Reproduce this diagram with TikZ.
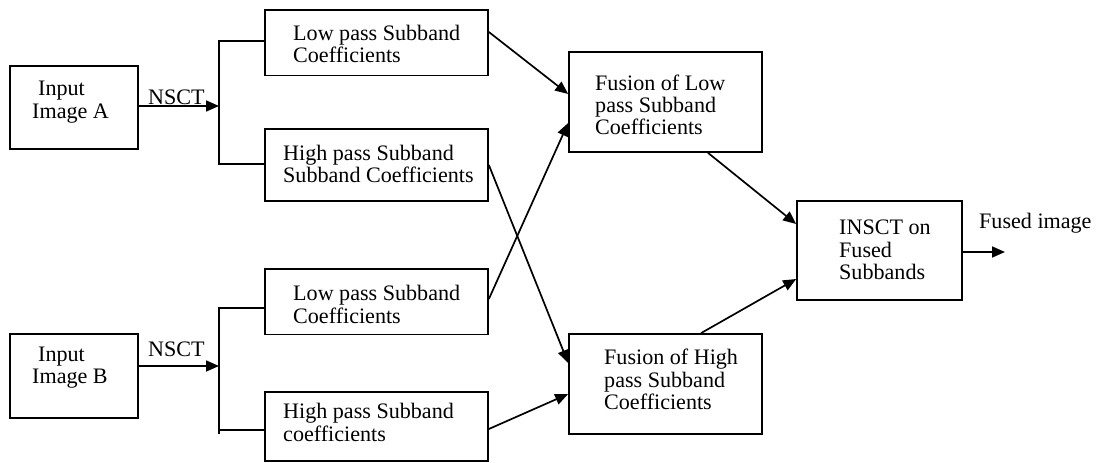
\documentclass[tikz,border=0pt]{standalone}
\usepackage{fontspec}
\setmainfont{Liberation Serif}
\usetikzlibrary{arrows.meta}
\tikzset{
  box/.style={draw, line width=1.7pt, rectangle, inner sep=0pt},
  txt/.style={anchor=west, inner sep=0pt, align=left, font=\fontsize{22.1}{22.3}\selectfont},
  conn/.style={line width=1.7pt},
  arr/.style={line width=1.7pt, -{Triangle[length=13pt,width=11pt]}}
}
\begin{document}
\begin{tikzpicture}[x=1pt,y=-1pt]
\useasboundingbox (0,0) rectangle (1098,463);
% boxes
\node[box, minimum width=128pt, minimum height=83pt] (inA) at (74,107.5) {};
\node[box, minimum width=128pt, minimum height=84pt] (inB) at (74,376) {};
\node[box, minimum width=223pt, minimum height=65.5pt] (lowA) at (376.5,42.75) {};
\node[box, minimum width=223pt, minimum height=72pt] (highA) at (376.5,165) {};
\node[box, minimum width=223pt, minimum height=65.5pt] (lowB) at (376.5,301.75) {};
\node[box, minimum width=223pt, minimum height=69pt] (highB) at (376.5,426.5) {};
\node[box, minimum width=193pt, minimum height=100pt] (fusL) at (665.5,102) {};
\node[box, minimum width=193pt, minimum height=100pt] (fusH) at (665.5,384) {};
\node[box, minimum width=165pt, minimum height=99pt] (insct) at (879.5,250.5) {};
% texts
\node[txt] (inAt) at (32,102) {\hspace{6pt}Input\\Image A};
\node[txt] (inBt) at (32,367.5) {\hspace{6pt}Input\\Image B};
\node[txt] (lowAt) at (293,44) {Low pass Subband\\Coefficients};
\node[txt] (highAt) at (283,164) {High pass Subband\\Subband Coefficients};
\node[txt] (lowBt) at (293,304.5) {Low pass Subband\\Coefficients};
\node[txt] (highBt) at (283,422.5) {High pass Subband\\coefficients};
\node[txt] (fusLt) at (595,105) {Fusion of Low\\pass Subband\\Coefficients};
\node[txt] (fusHt) at (604,379.5) {Fusion of High\\pass Subband\\Coefficients};
\node[txt] (insctt) at (839,250) {INSCT on\\Fused\\Subbands};
\node[txt] (outt) at (979,223) {Fused image};
\node[txt] (nsctA) at (148,97) {NSCT};
\node[txt] (nsctB) at (148,349) {NSCT};
% helper coordinates
\coordinate (brA) at (219,106);
\coordinate (brB) at (219,366);
\coordinate (brBbot) at (219,434);
\coordinate (out) at (1005,252);
% brackets
\draw[conn] ([yshift=1.75pt]lowA.west) -| (brA) |- ([yshift=1pt]highA.west);
\draw[conn] ([yshift=-6.25pt]lowB.west) -| (brBbot);
\draw[conn] ([yshift=-3.5pt]highB.west) -- ([yshift=-3.5pt]highB.west -| brB);
% NSCT arrows
\draw[arr] ([yshift=1.5pt]inA.east) -- ([yshift=1.5pt]inA.east -| brA);
\draw[arr] ([yshift=10pt]inB.east) -- ([yshift=10pt]inB.east -| brB);
% to fusion
\draw[arr] ([yshift=10.75pt]lowA.east) -- ([yshift=8pt]fusL.west);
\draw[arr] ([yshift=2.75pt]lowB.east) -- ([yshift=-21pt]fusL.west);
\draw[arr] (highA.east) -- ([yshift=21pt]fusH.west);
\draw[arr] ([yshift=-2.5pt]highB.east) -- ([yshift=-10pt]fusH.west);
% to INSCT
\draw[arr] ([xshift=42.5pt]fusL.south) -- ([yshift=26.5pt]insct.west);
\draw[arr] ([xshift=35.5pt]fusH.north) -- ([yshift=-28.5pt]insct.west);
\draw[arr] ([yshift=-1.5pt]insct.east) -- (out);
\end{tikzpicture}
\end{document}
